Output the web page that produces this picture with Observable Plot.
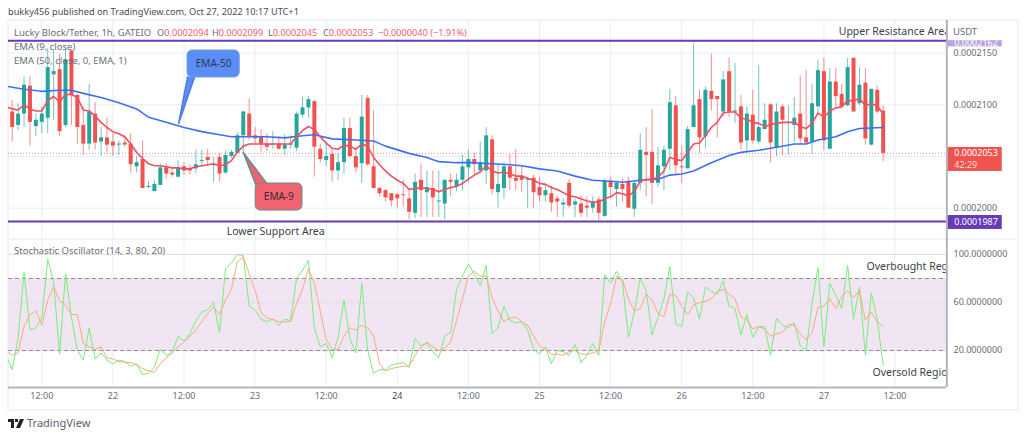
<!DOCTYPE html>
<html>
<head>
<meta charset="utf-8">
<script src="https://cdn.jsdelivr.net/npm/d3@7"></script>
<script src="https://cdn.jsdelivr.net/npm/@observablehq/plot@0.6"></script>
<style>
  body { margin: 0; background: #fff; font-family: "Noto Sans", sans-serif; }
  #page { position: relative; width: 1024px; height: 437px; overflow: hidden; }
  #frame { position: absolute; left: 7px; top: 19px; width: 1008px; height: 388px; border: 2px solid #f0f3fa; }
  #sep { position: absolute; left: 8px; top: 238px; width: 1008px; height: 2px; background: #f0f3fa; }
  #priceChart, #stochChart { position: absolute; left: 0; }
  #priceChart { top: 20px; }
  #stochChart { top: 239px; }
  .label { position: absolute; white-space: nowrap; font-size: 9.5px; line-height: 12px; color: #6a6d78; }
  .label b { font-weight: normal; color: #f0616a; }
  .ohlc { font-size: 9.2px; }
</style>
</head>
<body>
<div id="page">
  <div id="frame"></div>
  <div id="sep"></div>
  <div id="priceChart"></div>
  <div id="stochChart"></div>
  <div class="label" style="left:8px;top:6px;font-size:9.2px;color:#4a4c55">bukky456 published on TradingView.com, Oct 27, 2022 10:17 UTC+1</div>
  <div class="label" style="left:14px;top:27px">Lucky Block/Tether, 1h, GATEIO</div>
  <div class="label ohlc" style="left:157px;top:27px">O<b>0.0002094</b></div>
  <div class="label ohlc" style="left:212px;top:27px">H<b>0.0002099</b></div>
  <div class="label ohlc" style="left:268px;top:27px">L<b>0.0002045</b></div>
  <div class="label ohlc" style="left:323px;top:27px">C<b>0.0002053</b></div>
  <div class="label ohlc" style="left:378px;top:27px"><b>−0.0000040 (−1.91%)</b></div>
  <div class="label" style="left:14px;top:41px">EMA (9, close)</div>
  <div class="label" style="left:14px;top:55px">EMA (50, close, 0, EMA, 1)</div>
  <div class="label" style="left:14px;top:245px">Stochastic Oscillator (14, 3, 80, 20)</div>
  <div class="label" style="left:953px;top:27px;line-height:10px">USDT</div>
  <svg style="position:absolute;left:8px;top:419px" width="16" height="9" viewBox="0 0 16 9">
    <path d="M0 0h6v9H3V3H0zM7 0h3v3H7zM12 0h4l-4 9H8z" fill="#1e222d"/>
  </svg>
  <div class="label" style="left:27px;top:417px;font-size:11px;color:#5d606b">TradingView</div>
</div>
<script>
// prices are in units of 0.0000001 USDT, one candle per hour
const firstHour = 7 // 21 Oct 07:00, hours are counted from 21 Oct 00:00

const opens = [
  2093,2080,2091,2118,2079,2083,2087,2129,2134,2080,
  2152,2109,2080,2062,2091,2064,2068,2064,2061,2063,
  2062,2040,2047,2020,2016,2022,2039,2034,2030,2040,
  2038,2038,2045,2049,2041,2049,2034,2050,2053,2070,
  2091,2070,2069,2062,2061,2062,2057,2061,2058,2090,
  2097,2103,2057,2046,2052,2036,2044,2077,2050,2043,
  2106,2040,2019,2017,2014,2013,2013,2009,1995,2027,
  2015,2019,2006,2004,2027,2021,2027,2039,2047,2036,
  2036,2066,2015,2019,2040,2029,2031,2027,2029,2020,
  2012,2014,2009,2003,2024,2003,2004,2002,2000,2008,
  1992,2026,2018,2023,2026,1999,2024,2054,2054,2024,
  2040,2057,2099,2040,2038,2078,2105,2069,2113,2108,
  2093,2132,2093,2098,2065,2090,2064,2076,2100,2058,
  2098,2082,2080,2091,2068,2064,2098,2132,2057,2122,
  2110,2099,2145,2101,2121,2061,2114,2094]
const closes = [
  2078,2091,2119,2083,2085,2091,2136,2132,2074,2143,
  2109,2078,2062,2093,2063,2068,2061,2060,2062,2061,
  2042,2044,2019,2021,2023,2039,2033,2032,2039,2036,
  2036,2042,2046,2046,2042,2033,2051,2054,2070,2093,
  2069,2067,2062,2059,2062,2057,2061,2062,2091,2097,
  2105,2059,2047,2050,2036,2044,2077,2050,2039,2088,
  2042,2019,2014,2010,2007,2009,2012,1996,2025,2017,
  2020,2010,2007,2027,2025,2027,2040,2047,2042,2044,
  2070,2018,2023,2040,2029,2026,2027,2028,2015,2012,
  2017,2005,2006,2005,2002,2006,1995,2000,2006,1995,
  2026,2020,2024,2018,2000,2024,2056,2051,2024,2041,
  2056,2102,2041,2039,2076,2099,2068,2114,2105,2105,
  2124,2093,2094,2063,2091,2065,2078,2085,2063,2093,
  2085,2083,2087,2067,2063,2101,2133,2065,2122,2108,
  2098,2136,2093,2119,2067,2115,2093,2053]
const highs = [
  2104,2101,2127,2127,2091,2098,2154,2152,2149,2154,
  2152,2110,2098,2120,2102,2078,2087,2072,2065,2070,
  2072,2050,2065,2026,2027,2043,2043,2038,2046,2044,
  2042,2056,2056,2057,2049,2053,2055,2056,2073,2094,
  2106,2078,2076,2072,2074,2069,2071,2070,2093,2107,
  2108,2104,2062,2064,2058,2053,2087,2087,2058,2109,
  2109,2094,2020,2018,2014,2014,2027,2019,2033,2043,
  2036,2036,2036,2027,2033,2033,2051,2056,2053,2064,
  2078,2070,2043,2044,2052,2057,2040,2030,2032,2030,
  2024,2021,2011,2009,2028,2009,2012,2011,2011,2011,
  2028,2030,2026,2028,2030,2027,2072,2078,2095,2059,
  2060,2115,2108,2060,2079,2159,2114,2117,2149,2108,
  2132,2145,2140,2109,2098,2114,2138,2101,2101,2101,
  2100,2099,2107,2128,2133,2120,2143,2145,2135,2135,
  2120,2145,2145,2136,2135,2115,2118,2099]
const lows = [
  2064,2075,2078,2060,2069,2072,2072,2085,2070,2078,
  2080,2062,2051,2056,2056,2050,2053,2050,2051,2059,
  2034,2034,2019,2019,2016,2022,2028,2030,2029,2032,
  2032,2033,2040,2040,2025,2025,2033,2048,2053,2053,
  2065,2062,2054,2055,2057,2056,2051,2057,2055,2087,
  2087,2030,2044,2040,2025,2027,2033,2048,2034,2024,
  2040,2019,2011,2006,2001,2000,2001,1989,1990,1991,
  1991,1991,1991,1989,2011,2016,2017,2024,2033,2036,
  2023,2013,2000,2009,2017,2017,2015,2000,2000,2006,
  2006,1996,1991,1991,2000,1991,1991,1991,1995,1988,
  1991,2011,2001,2006,2000,1991,2017,2011,2003,2020,
  2017,2036,2032,2024,2038,2078,2053,2057,2094,2068,
  2088,2088,2082,2056,2055,2062,2061,2076,2044,2050,
  2051,2051,2063,2062,2061,2052,2090,2056,2057,2098,
  2098,2098,2093,2099,2061,2060,2091,2045]

// the indicator lines start one hour earlier, at the left edge of the chart
const ema9 = [2098,
  2096,2095,2100,2096,2094,2094,2104,2108,2103,2110,
  2110,2107,2095,2094,2089,2083,2078,2074,2072,2069,
  2062,2054,2048,2043,2041,2041,2040,2039,2039,2038,
  2038,2040,2041,2042,2043,2041,2042,2046,2054,2060,
  2062,2062,2062,2062,2062,2062,2062,2062,2069,2075,
  2079,2076,2069,2063,2058,2057,2061,2060,2057,2062,
  2060,2049,2042,2036,2031,2027,2024,2018,2019,2020,
  2019,2018,2016,2018,2020,2021,2024,2028,2032,2035,
  2041,2036,2034,2035,2033,2031,2031,2029,2027,2024,
  2023,2020,2018,2015,2012,2011,2009,2007,2006,2006,
  2009,2011,2015,2014,2012,2016,2026,2028,2028,2030,
  2036,2049,2047,2046,2054,2062,2063,2070,2078,2083,
  2092,2093,2093,2087,2086,2083,2082,2079,2081,2082,
  2083,2083,2083,2079,2077,2082,2092,2088,2094,2097,
  2098,2104,2104,2106,2099,2101,2099,2091]

const ema50Hours = [6,9,12,15,17,19,22,25,28,30,33,36,39,42,44,47,50,53,56,58,61,65,68,70,74,77,79,82,85,88,91,93,96,99,102,105,108,110,113,116,118,120,122,125,128,130,133,136,139,141,143,146,148,150,154]
const ema50 = [2118,2115,2113,2114,2114,2111,2107,2102,2096,2088,2083,2078,2074,2071,2069,2069,2069,2068,2070,2071,2067,2066,2065,2060,2053,2049,2045,2044,2044,2043,2042,2041,2038,2036,2031,2027,2026,2025,2027,2028,2032,2033,2036,2044,2051,2054,2056,2059,2062,2062,2066,2069,2074,2077,2078]

const stochK = [16,
  4,30,85,37,39,47,96,77,17,84,
  48,20,12,39,13,18,12,9,12,11,
  7,9,0,1,6,21,16,18,32,28,
  34,45,52,54,60,35,88,93,100,99,
  57,54,46,44,46,41,46,45,80,87,
  95,39,23,26,14,31,62,30,18,76,
  20,1,4,4,8,9,10,6,30,24,
  26,19,14,32,35,71,82,92,84,74,
  91,34,39,57,45,43,44,37,21,17,
  23,9,20,19,16,25,10,16,26,16,
  83,76,86,77,31,52,80,70,33,48,
  63,90,42,40,69,64,46,73,69,67,
  78,57,55,33,50,31,40,40,16,47,
  41,39,43,24,20,59,89,23,76,66,
  55,91,46,73,16,68,46,8]
const stochD = [20,
  16,18,40,50,53,41,62,73,62,58,
  50,50,26,23,21,23,14,13,11,10,
  10,8,5,3,2,9,14,18,23,27,
  32,37,44,51,56,50,62,71,94,98,
  84,70,52,47,46,44,44,44,59,71,
  88,76,53,29,21,21,32,39,37,41,
  39,32,9,3,5,6,7,7,16,23,
  27,23,20,22,27,45,63,82,86,82,
  82,64,53,44,47,48,44,41,32,24,
  21,17,17,16,19,20,17,17,18,20,
  44,59,82,79,63,53,55,67,62,51,
  48,67,66,57,50,58,60,61,63,69,
  71,67,63,48,46,38,40,38,32,34,
  35,42,41,34,29,35,56,57,63,55,
  65,70,64,70,45,52,44,40]

const priceGrid = [2000, 2050, 2100, 2150]
const priceLabels = [2000, 2100, 2150] // 2050 sits under the last price tag
const stochTicks = [20, 60, 100]
const timeTicks = [12, 24, 36, 48, 60, 72, 84, 96, 108, 120, 132, 144, 156]
const timeLabels = ["12:00", "22", "12:00", "23", "12:00", "24", "12:00", "25", "12:00", "26", "12:00", "27", "12:00"]

const resistance = 2162
const support = 1987
const lastClose = 2053

const green = "#26a69a"
const red = "#ef5350"
const purple = "#673ab7"
const gridColor = "#e9eef5"
const textColor = "#6a6d78"
const font = "Noto Sans"

const hours = opens.map((d, i) => firstHour + i)
const candles = hours.map((h, i) => ({h, o: opens[i], c: closes[i], hi: highs[i], lo: lows[i]}))
const candleColor = d => d.c >= d.o ? green : red
const lineHour = (d, i) => firstHour - 1 + i
const ema50Points = ema50Hours.map((h, i) => ({h, v: ema50[i]}))
const fmtPrice = d => (d / 1e7).toFixed(7)

const xScale = {domain: [6.38, 164.69], range: [8, 946]}

// callouts sit in chart coordinates so they follow the scales
const blueBox = {x1: 36.6, x2: 45.4, y1: 2126.4, y2: 2152.5}
const blueTail = [{h: 36.6, v: 2127}, {h: 35.1, v: 2082}, {h: 37.8, v: 2127}]
const redBox = {x1: 48.1, x2: 56, y1: 1997.7, y2: 2023.9}
const redTail = [{h: 48.1, v: 2023}, {h: 46, v: 2054}, {h: 50.1, v: 2023}]

const priceChart = Plot.plot({
  width: 1024,
  height: 219,
  marginLeft: 8,
  marginRight: 78,
  marginTop: 0,
  marginBottom: 0,
  style: {background: "transparent", fontFamily: font},
  x: {...xScale, axis: null},
  y: {domain: [1969.7, 2181.5], axis: null},
  marks: [
    Plot.ruleX(timeTicks, {stroke: gridColor}),
    Plot.ruleY(priceGrid, {stroke: gridColor}),
    Plot.ruleY([lastClose], {stroke: red, strokeWidth: 1, strokeDasharray: "1,2", strokeOpacity: 0.6}),
    Plot.ruleX(candles, {x: "h", y1: "lo", y2: "hi", stroke: candleColor, strokeWidth: 1, strokeOpacity: 0.65}),
    Plot.ruleX(candles, {x: "h", y1: "o", y2: "c", stroke: candleColor, strokeWidth: 4}),
    Plot.line(ema50Points, {x: "h", y: "v", stroke: "#3f6ef5", strokeWidth: 1.6, clip: true}),
    Plot.line(ema9, {x: lineHour, y: d => d, stroke: "#ef4f63", strokeWidth: 1.6, clip: true}),
    Plot.ruleY([resistance, support], {stroke: purple, strokeWidth: 2}),

    Plot.line(blueTail, {x: "h", y: "v", fill: "#5b8df6", stroke: "#4f7fdc"}),
    Plot.rect([blueBox], {x1: "x1", x2: "x2", y1: "y1", y2: "y2", fill: "#5b8df6", stroke: "#6c9be8", rx: 5}),
    Plot.line(redTail, {x: "h", y: "v", fill: "#f0636f", stroke: "#5f8f90"}),
    Plot.rect([redBox], {x1: "x1", x2: "x2", y1: "y1", y2: "y2", fill: "#f0636f", stroke: "#5f8f90", rx: 5}),
    Plot.text(["EMA-50"], {x: 41, y: 2139.5, fontSize: 10, fill: "#2e3a55"}),
    Plot.text(["EMA-9"], {x: 52, y: 2011, fontSize: 10, fill: "#3a2a35"}),
    Plot.text(["Upper Resistance Area"], {x: 146.5, y: 2170.8, textAnchor: "start", fontSize: 10.5, fill: "#3c3f48", clip: true}),
    Plot.text(["Lower Support Area"], {x: 43.2, y: 1977.4, textAnchor: "start", fontSize: 10.5, fill: "#3c3f48"}),

    // price scale on the right
    Plot.axisY(priceLabels, {anchor: "right", tickSize: 0, tickPadding: 7, tickFormat: fmtPrice, fontSize: 9, color: textColor, label: null}),
    Plot.rect([{}], {x1: 164.9, x2: 174.1, y1: 2156, y2: 2162, fill: "#b9a3e3"}),
    Plot.text([fmtPrice(resistance)], {x: 166, y: 2160, textAnchor: "start", fontSize: 9, fill: "white"}),
    Plot.rect([{}], {x1: 164.9, x2: 174.1, y1: 2035.5, y2: 2058.7, fill: red}),
    Plot.text([fmtPrice(lastClose)], {x: 166, y: 2053, textAnchor: "start", fontSize: 9, fill: "white"}),
    Plot.text(["42:29"], {x: 166, y: 2041.5, textAnchor: "start", fontSize: 9, fill: "#fbdcdc"}),
    Plot.rect([{}], {x1: 164.9, x2: 174.1, y1: 1979.4, y2: 1992.9, fill: purple}),
    Plot.text([fmtPrice(support)], {x: 166, y: 1986.5, textAnchor: "start", fontSize: 9, fill: "white"}),
    Plot.ruleX([164.75], {stroke: "#b2b5be", strokeWidth: 2})
  ]
})
document.getElementById("priceChart").append(priceChart)

const stochChart = Plot.plot({
  width: 1024,
  height: 169,
  marginLeft: 8,
  marginRight: 78,
  marginTop: 0,
  marginBottom: 21,
  style: {background: "transparent", fontFamily: font},
  x: {...xScale, axis: null},
  y: {domain: [-10.8, 112.5], axis: null},
  marks: [
    Plot.rect([{}], {x1: xScale.domain[0], x2: xScale.domain[1], y1: 20, y2: 80, fill: "#f1e5f3"}),
    Plot.ruleX(timeTicks, {stroke: gridColor}),
    Plot.ruleY(stochTicks, {stroke: "#e3dde9"}),
    Plot.ruleY([20, 80], {stroke: "#8e8e8e", strokeDasharray: "4,3"}),
    Plot.line(stochK, {x: lineHour, y: d => d, stroke: "#74f078", strokeWidth: 1, clip: true}),
    Plot.line(stochD, {x: lineHour, y: d => d, stroke: "#f8ab7c", strokeWidth: 1, clip: true}),
    Plot.text(["Overbought Region"], {x: 151.2, y: 90, textAnchor: "start", fontSize: 10.5, fill: "#3c3f48", clip: true}),
    Plot.text(["Oversold Region"], {x: 152.2, y: 1.5, textAnchor: "start", fontSize: 10.5, fill: "#3c3f48", clip: true}),
    Plot.axisY(stochTicks, {anchor: "right", tickSize: 0, tickPadding: 7, tickFormat: d => d.toFixed(7), fontSize: 9, color: textColor, label: null}),
    Plot.ruleY([-10.8], {stroke: "#b2b5be", strokeWidth: 2}),
    Plot.ruleX([164.75], {stroke: "#b2b5be", strokeWidth: 2}),
    Plot.text(timeTicks, {
      x: d => d,
      frameAnchor: "bottom",
      dy: 11,
      text: (d, i) => timeLabels[i],
      fontSize: 9,
      fill: (d, i) => timeLabels[i] === "24" ? "#434651" : textColor,
      fontWeight: (d, i) => timeLabels[i] === "24" ? "bold" : "normal"
    })
  ]
})
document.getElementById("stochChart").append(stochChart)
</script>
</body>
</html>
